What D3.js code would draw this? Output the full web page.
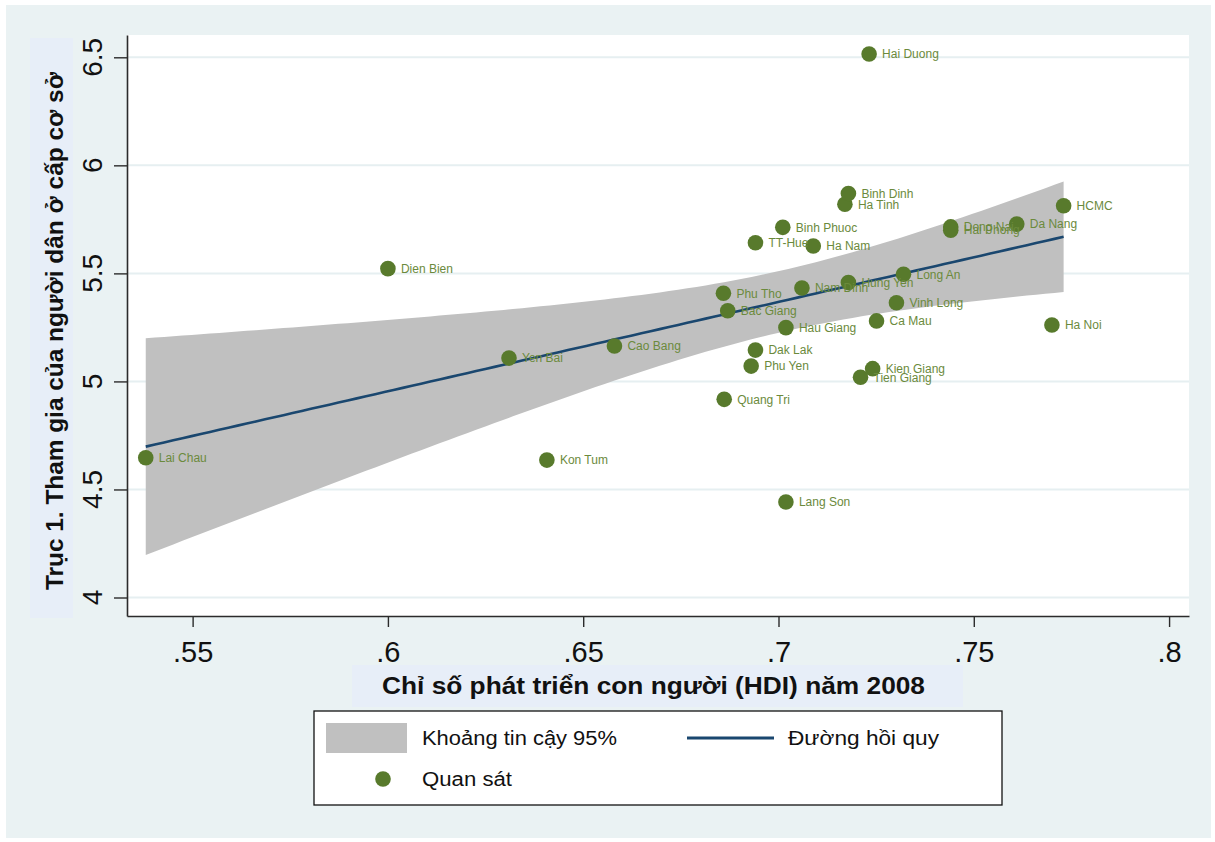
<!DOCTYPE html>
<html>
<head>
<meta charset="utf-8">
<script src="https://cdn.jsdelivr.net/npm/d3@7"></script>
<style>
  body { margin: 0; background: #ffffff; }
  svg { display: block; font-family: "Liberation Sans", Arial, sans-serif; }
</style>
</head>
<body>
<svg id="chart" width="1215" height="842"></svg>
<script>
// Provinces: HDI 2008 vs. participation score (axis 1)
const provinces = ["Lai Chau", "Dien Bien", "Yen Bai", "Cao Bang", "Kon Tum", "Phu Tho", "Bac Giang",
  "Quang Tri", "TT-Hue", "Dak Lak", "Phu Yen", "Binh Phuoc", "Hau Giang", "Lang Son", "Nam Dinh",
  "Ha Nam", "Ha Tinh", "Binh Dinh", "Hung Yen", "Tien Giang", "Kien Giang", "Hai Duong", "Ca Mau",
  "Vinh Long", "Long An", "Dong Nai", "Hai Phong", "Da Nang", "Ha Noi", "HCMC"];
const hdi = [0.538, 0.600, 0.631, 0.658, 0.6407, 0.6859, 0.687,
  0.6861, 0.6941, 0.6941, 0.693, 0.7011, 0.7019, 0.7019, 0.706,
  0.7089, 0.717, 0.7179, 0.7179, 0.721, 0.7241, 0.7232, 0.7251,
  0.7302, 0.732, 0.7441, 0.7441, 0.761, 0.770, 0.773];
const participation = [4.647, 5.522, 5.108, 5.164, 4.636, 5.408, 5.327,
  4.917, 5.642, 5.145, 5.071, 5.713, 5.249, 4.442, 5.432,
  5.627, 5.820, 5.870, 5.458, 5.019, 5.059, 6.515, 5.280,
  5.364, 5.496, 5.715, 5.700, 5.728, 5.261, 5.813];

const xTicks = [0.55, 0.6, 0.65, 0.7, 0.75, 0.8];
const xTickLabels = [".55", ".6", ".65", ".7", ".75", ".8"];
const yTicks = [4, 4.5, 5, 5.5, 6, 6.5];
const yTickLabels = ["4", "4.5", "5", "5.5", "6", "6.5"];
const legendLabels = ["Khoảng tin cậy 95%", "Đường hồi quy", "Quan sát"];
const xTitle = "Chỉ số phát triển con người (HDI) năm 2008";
const yTitle = "Trục 1. Tham gia của người dân ở cấp cơ sở";

// colours
const C = {
  graphBg: "#eaf2f3",
  titleBg: "#e7eef8",
  grid: "#e6eff1",
  band: "#c0c0c0",
  fit: "#1a476f",
  marker: "#587a2c",
  markerLabel: "#6b8a3c",
  axis: "#2b2b2b"
};

const svg = d3.select("#chart");
const plot = { left: 127, right: 1189, top: 35, bottom: 616 };

const x = d3.scaleLinear().domain([0.5332, 0.8051]).range([plot.left, plot.right]);
const y = d3.scaleLinear().domain([3.9144, 6.6032]).range([plot.bottom, plot.top]);

// graph region and title boxes
svg.append("rect").attr("x", 6).attr("y", 5).attr("width", 1205).attr("height", 833).attr("fill", C.graphBg);
svg.append("rect").attr("x", 30).attr("y", 38).attr("width", 43).attr("height", 580).attr("fill", C.titleBg);
svg.append("rect").attr("x", 352).attr("y", 665).attr("width", 611).attr("height", 42).attr("fill", C.titleBg);

// plot region
svg.append("rect").attr("x", plot.left).attr("y", plot.top)
  .attr("width", plot.right - plot.left).attr("height", plot.bottom - plot.top).attr("fill", "#ffffff");

// horizontal grid
svg.append("g").selectAll("line").data(yTicks).join("line")
  .attr("x1", plot.left).attr("x2", plot.right)
  .attr("y1", d => y(d)).attr("y2", d => y(d))
  .attr("stroke", C.grid).attr("stroke-width", 2);

// linear fit with 95% confidence band of the mean prediction
const n = hdi.length;
const mx = d3.mean(hdi), my = d3.mean(participation);
let sxx = 0, sxy = 0;
for (let i = 0; i < n; i++) {
  sxx += (hdi[i] - mx) ** 2;
  sxy += (hdi[i] - mx) * (participation[i] - my);
}
const slope = sxy / sxx;
const intercept = my - slope * mx;
let sse = 0;
for (let i = 0; i < n; i++) sse += (participation[i] - intercept - slope * hdi[i]) ** 2;
const se = Math.sqrt(sse / (n - 2));
const tCrit = 2.048; // t(0.975, 28 df)
const [xmin, xmax] = d3.extent(hdi);
const grid = d3.range(101).map(i => xmin + (xmax - xmin) * i / 100);
const fitPts = grid.map(g => {
  const yhat = intercept + slope * g;
  const hw = tCrit * se * Math.sqrt(1 / n + (g - mx) ** 2 / sxx);
  return { x: g, y: yhat, lo: yhat - hw, hi: yhat + hw };
});

svg.append("path").datum(fitPts)
  .attr("fill", C.band)
  .attr("d", d3.area().x(d => x(d.x)).y0(d => y(d.lo)).y1(d => y(d.hi)));

svg.append("path").datum(fitPts)
  .attr("fill", "none").attr("stroke", C.fit).attr("stroke-width", 2.6)
  .attr("d", d3.line().x(d => x(d.x)).y(d => y(d.y)));

// axes
const xAxis = svg.append("g").attr("transform", `translate(0,${plot.bottom})`)
  .call(d3.axisBottom(x).tickValues(xTicks).tickFormat((d, i) => xTickLabels[i])
    .tickSize(11).tickSizeOuter(0).tickPadding(14));
xAxis.select(".domain").attr("stroke", C.axis).attr("stroke-width", 1.6);
xAxis.selectAll(".tick line").attr("stroke", C.axis).attr("stroke-width", 1.4);
xAxis.selectAll(".tick text").attr("font-size", 29).attr("fill", "#111").attr("font-family", "Liberation Sans, Arial, sans-serif");

const yAxis = svg.append("g").attr("transform", `translate(${plot.left},0)`)
  .call(d3.axisLeft(y).tickValues(yTicks).tickFormat(() => "").tickSize(13).tickSizeOuter(0));
yAxis.select(".domain").attr("stroke", C.axis).attr("stroke-width", 1.6);
yAxis.selectAll(".tick line").attr("stroke", C.axis).attr("stroke-width", 1.4);

svg.append("g").selectAll("text").data(yTicks).join("text")
  .attr("transform", d => `translate(102,${y(d)}) rotate(-90)`)
  .attr("text-anchor", "middle")
  .attr("font-size", 28).attr("fill", "#111")
  .text((d, i) => yTickLabels[i]);

// axis titles
svg.append("text")
  .attr("transform", "translate(63,331) rotate(-90)")
  .attr("text-anchor", "middle")
  .attr("font-size", 23).attr("font-weight", "bold").attr("fill", "#111")
  .attr("textLength", 518).attr("lengthAdjust", "spacingAndGlyphs")
  .text(yTitle);

svg.append("text")
  .attr("x", 653.5).attr("y", 694)
  .attr("text-anchor", "middle")
  .attr("font-size", 23).attr("font-weight", "bold").attr("fill", "#111")
  .attr("textLength", 543).attr("lengthAdjust", "spacingAndGlyphs")
  .text(xTitle);

// observations
const obs = provinces.map((p, i) => ({ name: p, hdi: hdi[i], val: participation[i] }));
svg.append("g").selectAll("circle").data(obs).join("circle")
  .attr("cx", d => x(d.hdi)).attr("cy", d => y(d.val)).attr("r", 7.8)
  .attr("fill", C.marker);
svg.append("g").selectAll("text").data(obs).join("text")
  .attr("x", d => x(d.hdi) + 13).attr("y", d => y(d.val))
  .attr("dy", "0.36em")
  .attr("font-size", 12).attr("fill", C.markerLabel)
  .text(d => d.name);

// legend
const lg = svg.append("g");
lg.append("rect").attr("x", 314).attr("y", 711).attr("width", 688).attr("height", 94)
  .attr("fill", "#ffffff").attr("stroke", "#111").attr("stroke-width", 1.3);
lg.append("rect").attr("x", 326).attr("y", 723).attr("width", 81).attr("height", 30).attr("fill", C.band);
lg.append("line").attr("x1", 687).attr("x2", 774).attr("y1", 738).attr("y2", 738)
  .attr("stroke", C.fit).attr("stroke-width", 3);
lg.append("circle").attr("cx", 383).attr("cy", 779).attr("r", 7.8).attr("fill", C.marker);
const legendPos = [[422, 738, 195], [788, 738, 151], [422, 779, 90]];
lg.selectAll("text.lab").data(legendLabels).join("text").attr("class", "lab")
  .attr("x", (d, i) => legendPos[i][0]).attr("y", (d, i) => legendPos[i][1])
  .attr("dy", "0.36em")
  .attr("font-size", 20).attr("fill", "#111")
  .attr("textLength", (d, i) => legendPos[i][2]).attr("lengthAdjust", "spacingAndGlyphs")
  .text(d => d);
</script>
</body>
</html>
